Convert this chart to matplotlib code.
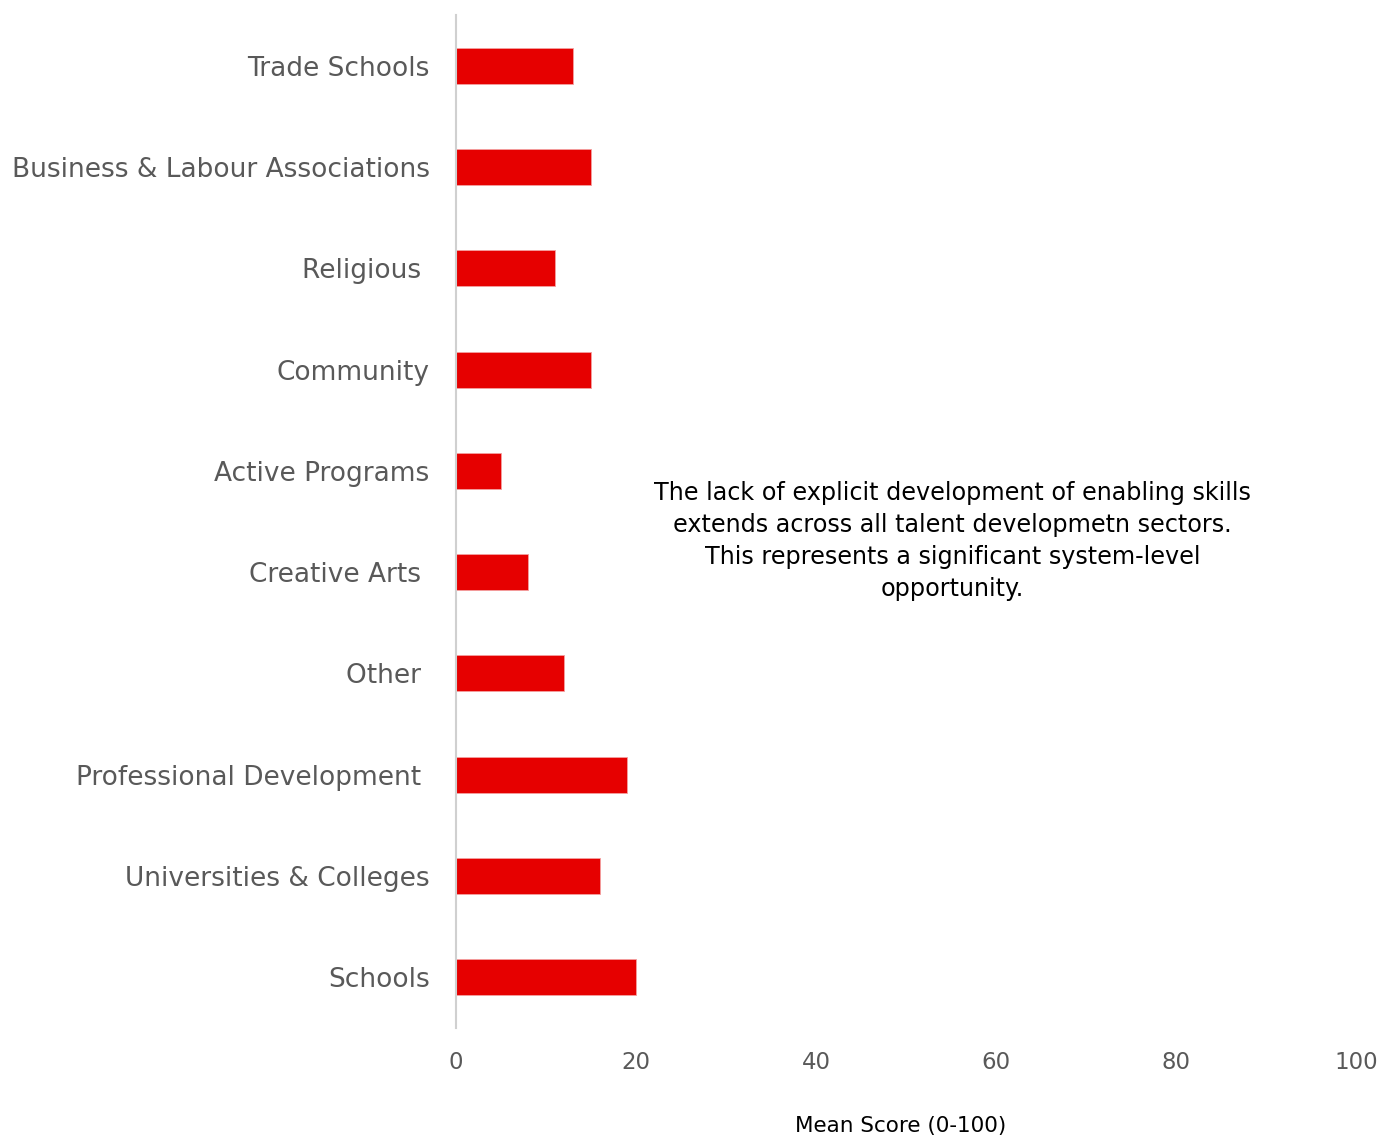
import matplotlib
matplotlib.use("Agg")
import matplotlib.pyplot as plt

# Sectors listed bottom to top as they appear on the y axis
categories = [
    "Schools",
    "Universities & Colleges",
    "Professional Development ",
    "Other ",
    "Creative Arts ",
    "Active Programs",
    "Community",
    "Religious ",
    "Business & Labour Associations",
    "Trade Schools",
]
mean_scores = [20, 16, 19, 12, 8, 5, 15, 11, 15, 13]
x_ticks = [0, 20, 40, 60, 80, 100]

note = ("The lack of explicit development of enabling skills\n"
        "extends across all talent developmetn sectors.\n"
        "This represents a significant system-level\n"
        "opportunity.")

plt.rcParams["font.family"] = ["DejaVu Sans"]

fig = plt.figure(figsize=(13.82, 11.36), dpi=100)
ax = fig.add_axes([456 / 1382, 1 - 1028 / 1136, 900 / 1382, 1013 / 1136])

ax.barh(range(len(categories)), mean_scores, height=0.355,
        color="#e60000", edgecolor="#f4a0a0", linewidth=0.6)

ax.set_xlim(0, 100)
ax.set_ylim(-0.5, len(categories) - 0.5)
ax.set_yticks(range(len(categories)))
ax.set_yticklabels(categories)
ax.set_xticks(x_ticks)
ax.set_xticklabels([str(t) for t in x_ticks])

ax.tick_params(axis="y", length=0, pad=19, labelsize=19, labelcolor="#595959")
ax.tick_params(axis="x", length=0, pad=16.5, labelsize=16.5, labelcolor="#595959")

for side in ("top", "right", "bottom"):
    ax.spines[side].set_visible(False)
ax.spines["left"].set_color("#d0d0d0")
ax.spines["left"].set_linewidth(1.5)

ax.set_xlabel("Mean Score (0-100)", fontsize=15.5, color="black")
ax.xaxis.set_label_coords(0.4945, -0.0967)
ax.xaxis.label.set_va("center")

ax.text(55.2, 4.31, note, ha="center", va="center", fontsize=17.2,
        color="black", linespacing=1.42)

fig.savefig("out.png", dpi=100, facecolor="white")
